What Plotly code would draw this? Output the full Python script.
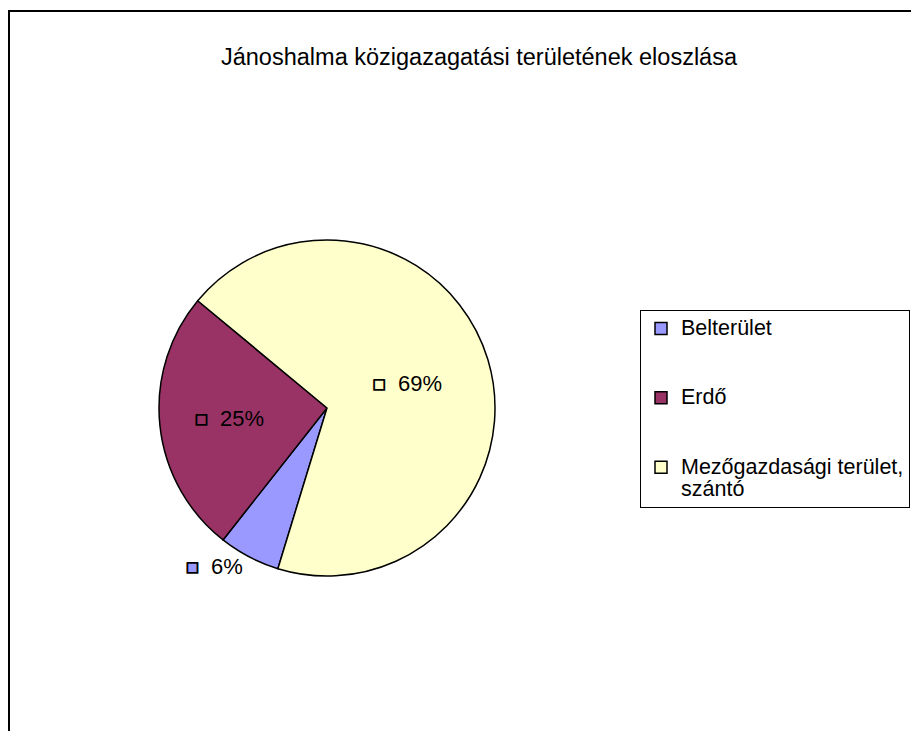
import plotly.graph_objects as go

# ---- data ----
categories = ["Belterület", "Erdő", "Mezőgazdasági terület, szántó"]
legend_lines = [["Belterület"], ["Erdő"], ["Mezőgazdasági terület,", "szántó"]]
values = [5.9, 25.4, 68.7]
colors = ["#9999FF", "#993366", "#FFFFCC"]
title_text = "Jánoshalma közigazagatási területének eloszlása"

FONT = "Liberation Sans, Arial, sans-serif"

# The page body has an 8px margin, so the figure is sized to fit the window.
W, H = 911, 723
ML, MT = 1, 3
PW, PH = W - ML, H - MT
OFF = 8  # page offset of figure


def px(xp):  # page x -> paper fraction
    return (xp - OFF - ML) / PW


def py(yp):  # page y -> paper fraction
    return 1 - (yp - OFF - MT) / PH


# legend entries: larger glyphs, padded with blank lines for Excel-like spacing
legend_labels = []
for i, lines in enumerate(legend_lines):
    body = "<br>".join(f"<span style='font-size:21.5px'>{ln}</span>" for ln in lines)
    if i < len(legend_lines) - 1:
        body += "<br> " * (3 - len(lines))
    legend_labels.append(body)

# data labels with a small legend key in front of the percentage
key_tpl = ("<span style='font-size:21px;color:{c};stroke:#000000;stroke-width:1.8px'>■</span>"
           "\u00a0\u00a0%{{percent:.0%}}")
texttemplates = [key_tpl.format(c=c) for c in colors]
textpositions = ["outside", "inside", "inside"]

fig = go.Figure(
    go.Pie(
        labels=legend_labels,
        values=values,
        sort=False,
        direction="clockwise",
        rotation=197,
        marker=dict(colors=colors, line=dict(color="#000000", width=1.5)),
        texttemplate=texttemplates,
        textposition=textpositions,
        insidetextorientation="horizontal",
        textfont=dict(family=FONT, size=22, color="#000000"),
        outsidetextfont=dict(family=FONT, size=22, color="#000000"),
        insidetextfont=dict(family=FONT, size=22, color="#000000"),
        hovertext=categories,
        hoverinfo="text+percent",
        domain=dict(x=[px(159), px(495)], y=[py(576), py(240)]),
    )
)

fig.update_layout(
    width=W,
    height=H,
    margin=dict(l=ML, r=0, t=MT, b=0),
    paper_bgcolor="#FFFFFF",
    plot_bgcolor="#FFFFFF",
    font=dict(family=FONT, color="#000000"),
    title=dict(
        text=title_text,
        font=dict(family=FONT, size=23.5, color="#000000"),
        x=(479 - OFF) / W,
        xanchor="center",
        xref="container",
        y=1 - (57 - OFF) / H,
        yanchor="middle",
        yref="container",
    ),
    showlegend=True,
    legend=dict(
        x=px(640),
        xanchor="left",
        y=py(310),
        yanchor="top",
        bordercolor="#000000",
        borderwidth=1,
        bgcolor="#FFFFFF",
        font=dict(family=FONT, size=17, color="#000000"),
        valign="top",
        traceorder="normal",
    ),
    shapes=[
        dict(
            type="rect",
            xref="paper",
            yref="paper",
            x0=0,
            x1=1.05,
            y0=-0.05,
            y1=1,
            line=dict(color="#000000", width=2),
            fillcolor="rgba(0,0,0,0)",
            layer="below",
        )
    ],
)

fig.write_html("out.html")
